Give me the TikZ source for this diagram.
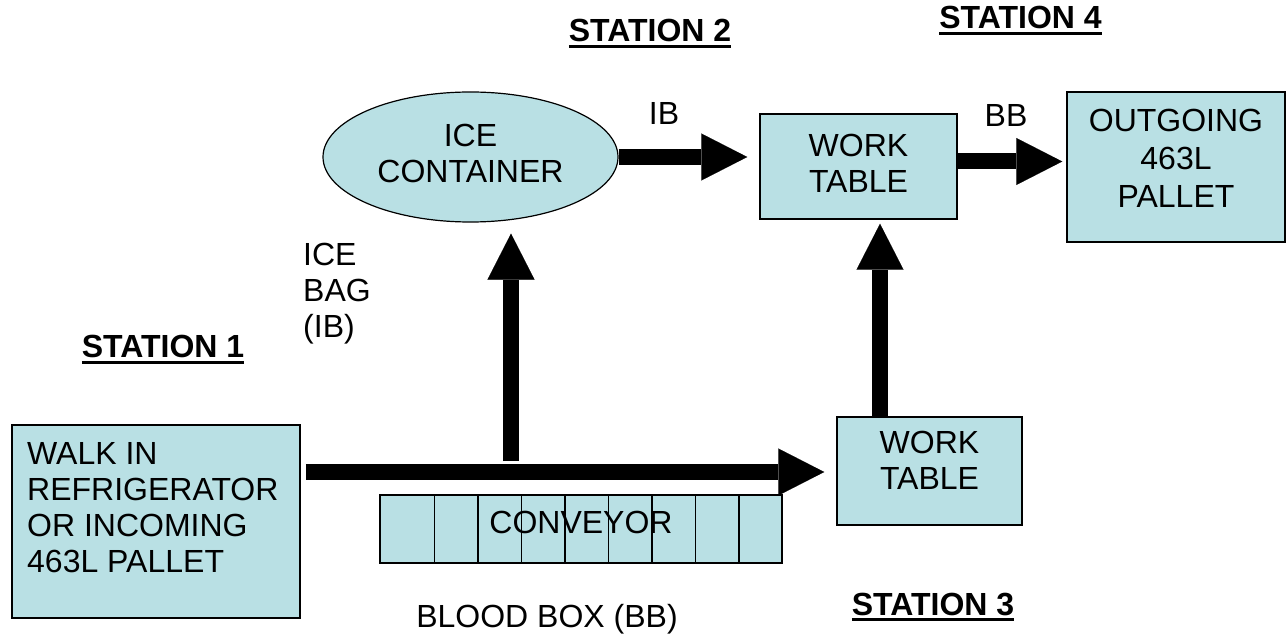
\documentclass[tikz,border=0pt]{standalone}
\usepackage{fontspec}
\setmainfont{Liberation Sans}
\usetikzlibrary{arrows.meta,shapes.geometric,calc}
\definecolor{boxfill}{RGB}{185,224,228}
\newcommand{\stationul}[1]{\vtop{\hbox{#1}\kern3pt\hrule height 3pt}}
\begin{document}
\begin{tikzpicture}[x=1pt,y=-1pt,
  txt/.style={font=\fontsize{32}{36}\selectfont, align=center, inner sep=0pt},
  blk/.style={draw=black, line width=1.5pt, fill=boxfill, inner sep=0pt},
  flow/.style={line width=16pt, -{Triangle[width=47pt,length=46pt,line width=0.1pt]}},
  stn/.style={font=\fontsize{32}{36}\selectfont\bfseries, inner sep=0pt, anchor=base}]
\useasboundingbox (0,0) rectangle (1288,636);

% boxes
\node[blk, minimum width=288pt, minimum height=193pt] (walk) at (156,521.5) {};
\node[txt, align=left, anchor=north west] (walktxt) at (27,442) {WALK IN\\REFRIGERATOR\\OR INCOMING\\463L PALLET};

\node[blk, draw, line width=1.2pt, ellipse, minimum width=295pt, minimum height=130pt,
  label={[txt, yshift=4pt]center:ICE\\CONTAINER}] (ice) at (470.5,157) {};

\node[blk, minimum width=197pt, minimum height=105pt,
  label={[txt, yshift=3.5pt]center:WORK\\TABLE}] (wt2) at (858.5,166.5) {};

\node[blk, minimum width=185pt, minimum height=108pt,
  label={[txt, yshift=10.5pt]center:WORK\\TABLE}] (wt3) at (929.5,471) {};

\node[blk, minimum width=218pt, minimum height=150pt,
  label={[txt, font=\fontsize{32}{38}\selectfont, yshift=8.5pt]center:OUTGOING\\463L\\PALLET}] (out) at (1176,167) {};

% conveyor
\node[blk, minimum width=402pt, minimum height=68pt] (conv) at (581,529) {};
\foreach \k in {0,...,7}
  \draw[line width=1.5pt] ($(conv.north west)+(55+43.5*\k,0.75)$) -- ($(conv.south west)+(55+43.5*\k,-0.75)$);
\node[txt] (convtxt) at ([yshift=7pt]conv.center) {CONVEYOR};

% connectors
\coordinate (split) at (511,461);
\draw[flow, shorten <=5pt, shorten >=12pt] ([yshift=49.5pt]walk.east) -- ([yshift=49.5pt]walk.east -| wt3.west);
\draw[flow, shorten >=11pt] (split) -- (split |- ice.south);
\draw[flow, shorten >=4pt] ([xshift=-49.5pt]wt3.north) -- ([xshift=-49.5pt]wt3.north |- wt2.south);
\draw[flow, shorten >=12pt] (ice.east) -- (ice.east -| wt2.west);
\draw[flow, shorten >=4pt] ([yshift=5pt]wt2.east) -- ([yshift=5pt]wt2.east -| out.west);

% labels
\node[txt, anchor=base] (lIB) at (664,125) {IB};
\node[txt, anchor=base] (lBB) at (1006,127) {BB};
\node[txt, align=left, anchor=north west] (lbag) at (303,243) {ICE\\BAG\\(IB)};
\node[txt, anchor=base] (lblood) at (547,627) {BLOOD BOX (BB)};

% stations
\node[stn] (s1) at (163,358) {\stationul{STATION 1}};
\node[stn] (s2) at (650,42) {\stationul{STATION 2}};
\node[stn] (s3) at (933,615) {\stationul{STATION 3}};
\node[stn] (s4) at (1020.5,29) {\stationul{STATION 4}};
\end{tikzpicture}
\end{document}
